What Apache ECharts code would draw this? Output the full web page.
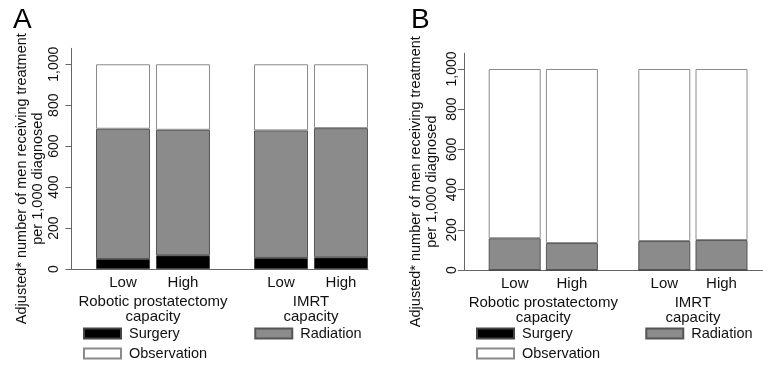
<!DOCTYPE html>
<html>
<head>
<meta charset="utf-8">
<script src="https://cdn.jsdelivr.net/npm/echarts@6/dist/echarts.min.js"></script>
<style>
  html, body { margin: 0; padding: 0; background: #fff; }
  #chart { width: 763px; height: 371px; }
</style>
</head>
<body>
<div id="chart"></div>
<script>
// bar order: robotic low, robotic high, IMRT low, IMRT high
const groups = ['Robotic prostatectomy\ncapacity', 'IMRT\ncapacity'];
const levels = ['Low', 'High'];
const surgeryA = [49, 67, 54, 57];
const radiationA = [636, 613, 623, 631];
const observationA = [315, 320, 323, 312];
const surgeryB = [0, 0, 0, 0];
const radiationB = [158, 134, 144, 149];
const observationB = [842, 866, 856, 851];
const yTicks = [0, 200, 400, 600, 800, 1000];
const yTickLabels = ['0', '200', '400', '600', '800', '1,000'];
const yMax = 1078;

const FONT = 'Liberation Sans, Arial, sans-serif';
const yTitle = 'Adjusted* number of men receiving treatment\nper 1,000 diagnosed';

const chart = echarts.init(document.getElementById('chart'));

function panelSeries(surgery, radiation, observation, axisIdx, barWidth, barGap) {
  const out = [];
  levels.forEach(function (lvl, j) {
    const pick = function (arr) { return [arr[j], arr[2 + j]]; };
    const common = {
      type: 'bar', stack: 'p' + axisIdx + lvl,
      xAxisIndex: axisIdx, yAxisIndex: axisIdx,
      barWidth: barWidth, barGap: barGap,
      animation: false
    };
    out.push(Object.assign({}, common, {
      name: 'Surgery', data: pick(surgery),
      itemStyle: { color: '#000', borderColor: '#444', borderWidth: 1 },
      label: {
        show: true, position: 'bottom', distance: 6, formatter: lvl,
        fontFamily: FONT, fontSize: 15, color: '#111'
      }
    }));
    out.push(Object.assign({}, common, {
      name: 'Radiation', data: pick(radiation),
      itemStyle: { color: '#8b8b8b', borderColor: '#555', borderWidth: 1 }
    }));
    out.push(Object.assign({}, common, {
      name: 'Observation', data: pick(observation),
      itemStyle: { color: '#fff', borderColor: '#8a8a8a', borderWidth: 1 }
    }));
  });
  return out;
}

function barX(gridIdx) {
  return {
    type: 'category', gridIndex: gridIdx, data: groups,
    axisLine: { show: false }, axisTick: { show: false },
    axisLabel: { interval: 0, margin: 25, fontFamily: FONT, fontSize: 15, lineHeight: 15, color: '#111' }
  };
}
function barY(gridIdx) {
  return { type: 'value', gridIndex: gridIdx, min: 0, max: yMax, show: false };
}
function frameX(gridIdx) {
  return {
    type: 'value', gridIndex: gridIdx, min: 0, max: 1,
    axisLine: { show: true, lineStyle: { color: '#666', width: 1 } },
    axisTick: { show: false }, axisLabel: { show: false }, splitLine: { show: false }
  };
}
function frameY(gridIdx, labelMargin, nameGap) {
  return {
    type: 'value', gridIndex: gridIdx, min: 0, max: yMax,
    axisLine: { show: true, lineStyle: { color: '#666', width: 1 } },
    axisTick: { show: true, length: 6, customValues: yTicks, lineStyle: { color: '#666' } },
    axisLabel: {
      customValues: yTicks, rotate: 90, margin: labelMargin,
      fontFamily: FONT, fontSize: 14, color: '#111',
      formatter: function (v) { return yTickLabels[yTicks.indexOf(v)]; }
    },
    splitLine: { show: false },
    name: yTitle, nameLocation: 'middle', nameGap: nameGap, nameRotate: 90,
    nameTextStyle: {
      fontFamily: FONT, fontSize: 14.5, lineHeight: 16, color: '#111',
      align: 'center', padding: [0, 40, 0, 0]
    }
  };
}

const legendBase = {
  icon: 'rect', itemWidth: 37, itemHeight: 10, selectedMode: false,
  padding: 0, orient: 'horizontal',
  textStyle: { fontFamily: FONT, fontSize: 14.5, color: '#111', padding: [0, 0, 0, 3] }
};

const gridBase = { outerBoundsMode: 'none', containLabel: false };

const option = {
  backgroundColor: '#fff',
  animation: false,
  title: [
    { text: 'A', left: 8, top: 1, textStyle: { fontFamily: FONT, fontSize: 28, fontWeight: 'normal', color: '#000' } },
    { text: 'B', left: 406, top: 1, textStyle: { fontFamily: FONT, fontSize: 28, fontWeight: 'normal', color: '#000' } }
  ],
  legend: [
    Object.assign({}, legendBase, { data: ['Surgery', 'Radiation'], left: 83, top: 326, itemGap: 74.5 }),
    Object.assign({}, legendBase, { data: ['Observation'], left: 83, top: 346 }),
    Object.assign({}, legendBase, { data: ['Surgery', 'Radiation'], left: 476, top: 326, itemGap: 72.5 }),
    Object.assign({}, legendBase, { data: ['Observation'], left: 476, top: 346 })
  ],
  grid: [
    Object.assign({ left: 74, top: 48.3, width: 316, height: 220.7 }, gridBase),
    Object.assign({ left: 71.5, top: 48.3, width: 296.5, height: 220.7 }, gridBase),
    Object.assign({ left: 468.5, top: 53.3, width: 299.2, height: 216.7 }, gridBase),
    Object.assign({ left: 464, top: 53.3, width: 299, height: 216.7 }, gridBase)
  ],
  xAxis: [barX(0), frameX(1), barX(2), frameX(3)],
  yAxis: [barY(0), frameY(1, 10, 26), barY(2), frameY(3, 5, 24)],
  series: [].concat(
    panelSeries(surgeryA, radiationA, observationA, 0, 54, '11%'),
    panelSeries(surgeryB, radiationB, observationB, 2, 52, '10%')
  )
};

chart.setOption(option);
</script>
</body>
</html>
